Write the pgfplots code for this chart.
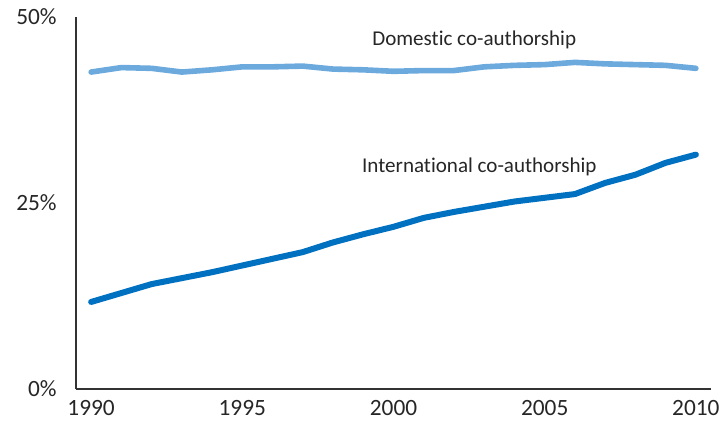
\documentclass[border=0pt]{standalone}
\usepackage{fontspec}
\setmainfont{Carlito}[Ligatures={NoCommon}]
\usepackage{pgfplots}
\pgfplotsset{compat=1.18}
\definecolor{dom}{RGB}{108,169,221}
\definecolor{intl}{RGB}{0,112,192}
\definecolor{txt}{RGB}{38,38,38}
\begin{document}
\begin{tikzpicture}
\useasboundingbox (0,0) rectangle (543.75pt,318.75pt);
\begin{axis}[
  at={(57pt,27pt)}, anchor=south west,
  width=476.25pt, height=279pt, scale only axis,
  xmin=1989.5, xmax=2010.5, ymin=0, ymax=50,
  axis x line=bottom, axis y line=left,
  axis line style={-, draw=black!80, line width=1pt},
  xtick={1990,1995,2000,2005,2010}, ytick={0,25,50},
  yticklabel={\pgfmathprintnumber{\tick}\%},
  major tick length=0pt,
  /pgf/number format/1000 sep={},
  /pgf/number format/assume math mode=true,
  tick label style={font=\fontsize{17.5}{18}\selectfont, text=txt},
  xticklabel style={yshift=-5pt},
  yticklabel style={xshift=-11pt},
  clip=false,
]
\addplot[dom, line width=4.2pt, line cap=round, line join=round] coordinates {
(1990,42.6) (1991,43.2) (1992,43.1) (1993,42.6) (1994,42.9) (1995,43.3)
(1996,43.3) (1997,43.4) (1998,43.0) (1999,42.9) (2000,42.7) (2001,42.8)
(2002,42.8) (2003,43.3) (2004,43.5) (2005,43.6) (2006,43.9) (2007,43.7)
(2008,43.6) (2009,43.5) (2010,43.1)};
\addplot[intl, line width=4.5pt, line cap=round, line join=round] coordinates {
(1990,11.7) (1991,12.9) (1992,14.1) (1993,14.9) (1994,15.7) (1995,16.6)
(1996,17.5) (1997,18.4) (1998,19.7) (1999,20.8) (2000,21.8) (2001,23.0)
(2002,23.8) (2003,24.5) (2004,25.2) (2005,25.7) (2006,26.2) (2007,27.7)
(2008,28.8) (2009,30.4) (2010,31.5)};
\node[text=txt, font=\fontsize{15.8}{16}\selectfont] at (axis cs:2002.67,46.9) {Domestic co-authorship};
\node[text=txt, font=\fontsize{15.8}{16}\selectfont] at (axis cs:2002.84,29.8) {International co-authorship};
\end{axis}
\end{tikzpicture}
\end{document}
